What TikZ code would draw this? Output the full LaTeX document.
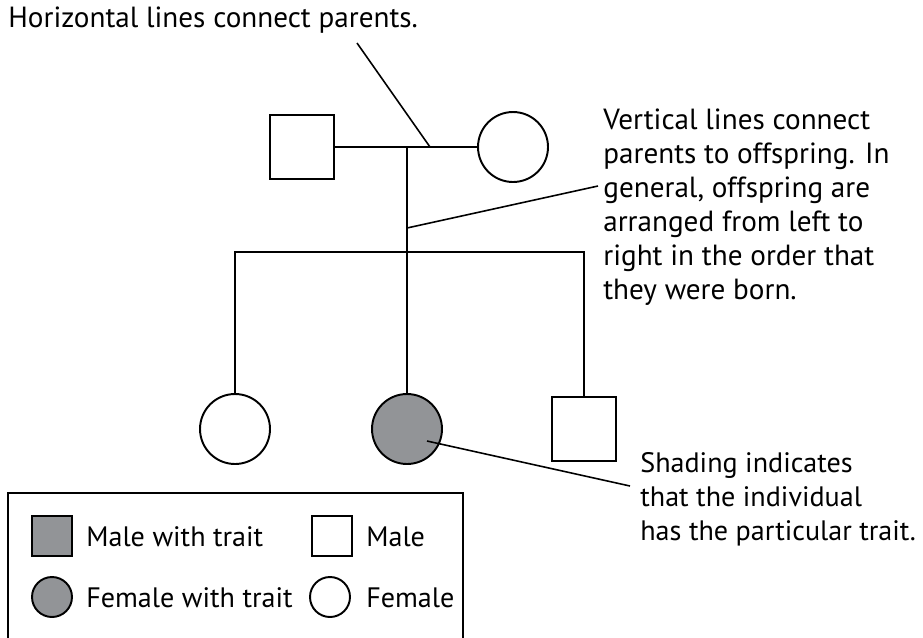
\documentclass[tikz,border=0pt]{standalone}
\usepackage{fontspec}
\setmainfont{PT Sans}
\usetikzlibrary{positioning}
\definecolor{shade}{RGB}{146,148,151}

\begin{document}
\begin{tikzpicture}[x=0.02cm,y=-0.02cm,
    male/.style={draw,line width=1.1pt,minimum size=1.28cm,inner sep=0pt},
    female/.style={draw,circle,line width=1.1pt,minimum size=1.4cm,inner sep=0pt},
    trait/.style={fill=shade},
    lab/.style={align=left,anchor=north west,inner sep=0pt,font=\fontsize{16}{19.4}\selectfont},
    big/.style={font=\fontsize{16.6}{19.4}\selectfont},
    ln/.style={line width=0.9pt}]
\useasboundingbox (0,0) rectangle (923,637);
% parents
\node[male] (dad) at (302,147) {};
\node[female] (mom) at (513,147) {};
\draw[ln] (dad) -- (mom);
\coordinate (mid) at (407,147);
\coordinate (sib) at (407,252);
\draw[ln] (mid) -- (sib);
% offspring
\node[female] (girl) at (235,429) {};
\node[female,trait] (girl2) at (407,429) {};
\node[male] (boy) at (584,429) {};
\draw[ln] (girl.north) |- (sib) -| (boy.north);
\draw[ln] (sib) -- (girl2.north);
% notes
\node[lab,big] (note1) at (8,6) {Horizontal lines connect parents.};
\node[lab,big] (note2) at (603,108) {Vertical lines connect\\parents to offspring. In\\general, offspring are\\arranged from left to\\right in the order that\\they were born.};
\node[lab] (note3) at (640,452) {Shading indicates\\that the individual\\has the particular trait.};
\coordinate (p1) at (357,43);
\coordinate (p2) at (430,147);
\draw[ln] (p1) -- (p2);
\coordinate (p3) at (598,186);
\coordinate (p4) at (407,228);
\draw[ln] (p3) -- (p4);
\coordinate (p5) at (427,441);
\coordinate (p6) at (630,486);
\draw[ln] (p5) -- (p6);
% key
\draw[line width=0.8pt] (8,640) |- (463,493) -- (463,640);
\node[male,trait,minimum size=0.8cm] (k1) at (52,536) {};
\node[lab,anchor=west] (k1t) at (86,537) {Male with trait};
\node[male,minimum size=0.8cm] (k2) at (332,536) {};
\node[lab,anchor=west] (k2t) at (366,537) {Male};
\node[female,trait,minimum size=0.8cm] (k3) at (52,597) {};
\node[lab,anchor=west] (k3t) at (86,598) {Female with trait};
\node[female,minimum size=0.8cm] (k4) at (330,597) {};
\node[lab,anchor=west] (k4t) at (366,598) {Female};
\end{tikzpicture}
\end{document}
